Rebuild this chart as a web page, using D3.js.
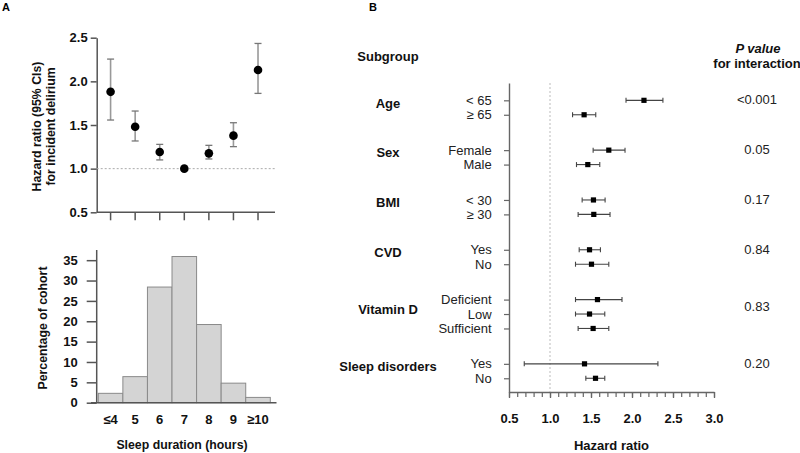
<!DOCTYPE html>
<html><head><meta charset="utf-8">
<script src="https://cdn.jsdelivr.net/npm/d3@7"></script>
<style>
body{margin:0;background:#fff;}
svg{display:block;font-family:"Liberation Sans",Arial,sans-serif;}
</style></head>
<body><svg id="c" width="800" height="453"></svg>
<script>
// ---- Panel A data ----
const sleepCats = ["≤4","5","6","7","8","9","≥10"];
const sleepHR = [1.88,1.48,1.19,1.0,1.175,1.378,2.13];
const sleepLo = [1.557,1.317,1.10,null,1.111,1.252,1.862];
const sleepHi = [2.255,1.66,1.278,null,1.267,1.526,2.434];
const cohortPct = [2.3,6.4,28.4,35.9,19.2,4.8,1.3];
const hrTicks = [0.5,1.0,1.5,2.0,2.5];
const pctTicks = [0,5,10,15,20,25,30,35];

// ---- Panel B data ----
const groups = ["Age","Sex","BMI","CVD","Vitamin D","Sleep disorders"];
const subLabels = ["< 65","≥ 65","Female","Male","< 30","≥ 30","Yes","No","Deficient","Low","Sufficient","Yes","No"];
const subGroup = [0,0,1,1,2,2,3,3,4,4,4,5,5];
const subHR = [2.146,1.416,1.717,1.461,1.530,1.534,1.482,1.506,1.579,1.482,1.526,1.421,1.555];
const subLo = [1.927,1.275,1.526,1.323,1.392,1.343,1.356,1.311,1.311,1.311,1.343,0.686,1.437];
const subHi = [2.377,1.558,1.915,1.607,1.672,1.732,1.615,1.717,1.878,1.668,1.717,2.316,1.668];
const pValues = ["<0.001","0.05","0.17","0.84","0.83","0.20"];
const forestTicks = [0.5,1.0,1.5,2.0,2.5,3.0];

const svg = d3.select("#c");
const axisCol = "#555";
const fmt1 = d3.format(".1f");

function styleAxis(g){
  g.selectAll("path.domain").attr("stroke",axisCol).attr("stroke-width",1.5);
  g.selectAll(".tick line").attr("stroke",axisCol).attr("stroke-width",1.5);
  g.selectAll(".tick text").attr("fill","#111").attr("font-weight","bold").attr("font-size",13)
    .attr("font-family","'Liberation Sans',Arial,sans-serif");
}

// panel labels
svg.append("text").attr("x",2).attr("y",11).attr("font-weight","bold").attr("font-size",11).text("A");
svg.append("text").attr("x",369).attr("y",11).attr("font-weight","bold").attr("font-size",11).text("B");

// ===== Panel A top =====
const xA = d3.scaleBand().domain(sleepCats).range([98.3,270.3]).padding(0);
const xc = d => xA(d) + xA.bandwidth()/2;
const yTop = d3.scaleLinear().domain([0.5,2.5]).range([212.3,37.7]);

const gyTop = svg.append("g").attr("transform","translate(96.7,0)")
  .call(d3.axisLeft(yTop).tickValues(hrTicks).tickFormat(fmt1).tickSize(6).tickPadding(3).tickSizeOuter(0));
styleAxis(gyTop);

const gxTop = svg.append("g").attr("transform",`translate(0,${yTop(0.5)})`)
  .call(d3.axisBottom(xA).tickFormat("").tickSize(8).tickSizeOuter(0));
styleAxis(gxTop);
gxTop.select("path.domain").attr("d",`M96.7,0H275`);

// reference line at 1.0
svg.append("line").attr("x1",96.7).attr("x2",275).attr("y1",yTop(1)).attr("y2",yTop(1))
  .attr("stroke","#aaa").attr("stroke-width",1).attr("stroke-dasharray","2,2");

// error bars
const eb = svg.append("g");
sleepCats.forEach((c,i)=>{
  if(sleepLo[i]==null) return;
  const x = xc(c);
  eb.append("line").attr("x1",x).attr("x2",x).attr("y1",yTop(sleepLo[i])).attr("y2",yTop(sleepHi[i]))
    .attr("stroke","#999").attr("stroke-width",1.6);
  [sleepLo[i],sleepHi[i]].forEach(v=>{
    eb.append("line").attr("x1",x-3.5).attr("x2",x+3.5).attr("y1",yTop(v)).attr("y2",yTop(v))
      .attr("stroke","#777").attr("stroke-width",1.3);
  });
});
svg.append("g").selectAll("circle").data(sleepHR).join("circle")
  .attr("cx",(d,i)=>xc(sleepCats[i])).attr("cy",d=>yTop(d)).attr("r",4.3).attr("fill","#000");

// y label
svg.append("text").attr("transform","translate(40.5,126.5) rotate(-90)")
  .attr("font-weight","bold").attr("font-size",12.3).attr("text-anchor","middle").attr("fill","#111")
  .text("Hazard ratio (95% CIs)");
svg.append("text").attr("transform","translate(54.5,126.5) rotate(-90)")
  .attr("font-weight","bold").attr("font-size",12.3).attr("text-anchor","middle").attr("fill","#111")
  .text("for incident delirium");

// ===== Panel A bottom (histogram) =====
const yBot = d3.scaleLinear().domain([0,37.5]).range([402.7,250]);
svg.append("g").selectAll("rect").data(cohortPct).join("rect")
  .attr("x",(d,i)=>xA(sleepCats[i])).attr("width",xA.bandwidth())
  .attr("y",d=>yBot(d)).attr("height",d=>yBot(0)-yBot(d))
  .attr("fill","#d4d4d4").attr("stroke","#8a8a8a").attr("stroke-width",1);

const gyBot = svg.append("g").attr("transform","translate(96.7,0)")
  .call(d3.axisLeft(yBot).tickValues(pctTicks).tickFormat(d3.format("d")).tickSize(10).tickPadding(9).tickSizeOuter(0));
styleAxis(gyBot);
gyBot.select("path.domain").attr("d","M0,250V402.7");

const gxBot = svg.append("g").attr("transform",`translate(0,${yBot(0)})`)
  .call(d3.axisBottom(xA).tickSize(0).tickPadding(12).tickSizeOuter(0));
styleAxis(gxBot);
gxBot.select("path.domain").attr("d","M91,0H276.5");

svg.append("text").attr("transform","translate(47,328) rotate(-90)")
  .attr("font-weight","bold").attr("font-size",12.3).attr("text-anchor","middle").attr("fill","#111")
  .text("Percentage of cohort");
svg.append("text").attr("x",182).attr("y",449)
  .attr("font-weight","bold").attr("font-size",12.3).attr("text-anchor","middle").attr("fill","#111")
  .text("Sleep duration  (hours)");

// ===== Panel B (forest) =====
const pos = subLabels.map((d,i)=> i + subGroup[i]*1.45);
const yF = d3.scaleLinear().domain([-1.2,20.2]).range([83,392]);
const xF = d3.scaleLinear().domain([0.5,3.0]).range([509,714]);

// y axis with row ticks
const gyF = svg.append("g").attr("transform","translate(509,0)")
  .call(d3.axisLeft(yF).tickValues(pos).tickFormat("").tickSize(5).tickSizeOuter(0));
gyF.selectAll("path.domain").attr("stroke","#666").attr("stroke-width",1.4);
gyF.selectAll(".tick line").attr("stroke","#666").attr("stroke-width",1.2);

// x axis, minor ticks
const minor = d3.range(5,31).map(v=>v/10);
const gxFm = svg.append("g").attr("transform","translate(0,392)")
  .call(d3.axisBottom(xF).tickValues(minor).tickFormat("").tickSize(5).tickSizeOuter(0));
gxFm.selectAll("path.domain").attr("stroke","#666").attr("stroke-width",1.4);
gxFm.selectAll(".tick line").attr("stroke","#666").attr("stroke-width",1.2);
const gxF = svg.append("g").attr("transform","translate(0,392)")
  .call(d3.axisBottom(xF).tickValues(forestTicks).tickFormat(fmt1).tickSize(6).tickPadding(16).tickSizeOuter(0));
styleAxis(gxF);
gxF.select("path.domain").remove();
gxF.selectAll(".tick line").attr("stroke","#666").attr("stroke-width",1.3);

// reference line at 1.0
svg.append("line").attr("x1",xF(1)).attr("x2",xF(1)).attr("y1",83).attr("y2",392)
  .attr("stroke","#bbb").attr("stroke-width",1).attr("stroke-dasharray","2,2");

// CI lines and markers
const fg = svg.append("g");
subLabels.forEach((s,i)=>{
  const y = yF(pos[i]);
  fg.append("line").attr("x1",xF(subLo[i])).attr("x2",xF(subHi[i])).attr("y1",y).attr("y2",y)
    .attr("stroke","#444").attr("stroke-width",1.1);
  [subLo[i],subHi[i]].forEach(v=>{
    fg.append("line").attr("x1",xF(v)).attr("x2",xF(v)).attr("y1",y-2.5).attr("y2",y+2.5)
      .attr("stroke","#444").attr("stroke-width",1.1);
  });
});
fg.selectAll("rect").data(subHR).join("rect")
  .attr("x",(d)=>xF(d)-2.6).attr("y",(d,i)=>yF(pos[i])-2.6).attr("width",5.2).attr("height",5.2).attr("fill","#000");

// subgroup labels
svg.append("g").selectAll("text").data(subLabels).join("text")
  .attr("x",491.7).attr("y",(d,i)=>yF(pos[i])).attr("dy","0.35em")
  .attr("text-anchor","end").attr("font-size",13).attr("fill","#222").text(d=>d);

// group labels & p values
groups.forEach((g,gi)=>{
  const ps = pos.filter((p,i)=>subGroup[i]===gi);
  const mid = yF(d3.mean(ps));
  svg.append("text").attr("x",388).attr("y",mid-4.5).attr("dy","0.35em")
    .attr("text-anchor","middle").attr("font-weight","bold").attr("font-size",13).attr("fill","#111").text(g);
  svg.append("text").attr("x",757).attr("y",mid-8).attr("dy","0.35em")
    .attr("text-anchor","middle").attr("font-size",13).attr("fill","#222").text(pValues[gi]);
});

svg.append("text").attr("x",388).attr("y",56.7).attr("dy","0.35em")
  .attr("text-anchor","middle").attr("font-weight","bold").attr("font-size",13).attr("fill","#111").text("Subgroup");
svg.append("text").attr("x",758).attr("y",48.3).attr("dy","0.35em")
  .attr("text-anchor","middle").attr("font-weight","bold").attr("font-style","italic").attr("font-size",13).attr("fill","#111").text("P value");
svg.append("text").attr("x",757).attr("y",63.3).attr("dy","0.35em")
  .attr("text-anchor","middle").attr("font-weight","bold").attr("font-size",13).attr("fill","#111").text("for interaction");
svg.append("text").attr("x",611.5).attr("y",445).attr("dy","0.35em")
  .attr("text-anchor","middle").attr("font-weight","bold").attr("font-size",13).attr("fill","#111").text("Hazard ratio");
</script></body></html>
